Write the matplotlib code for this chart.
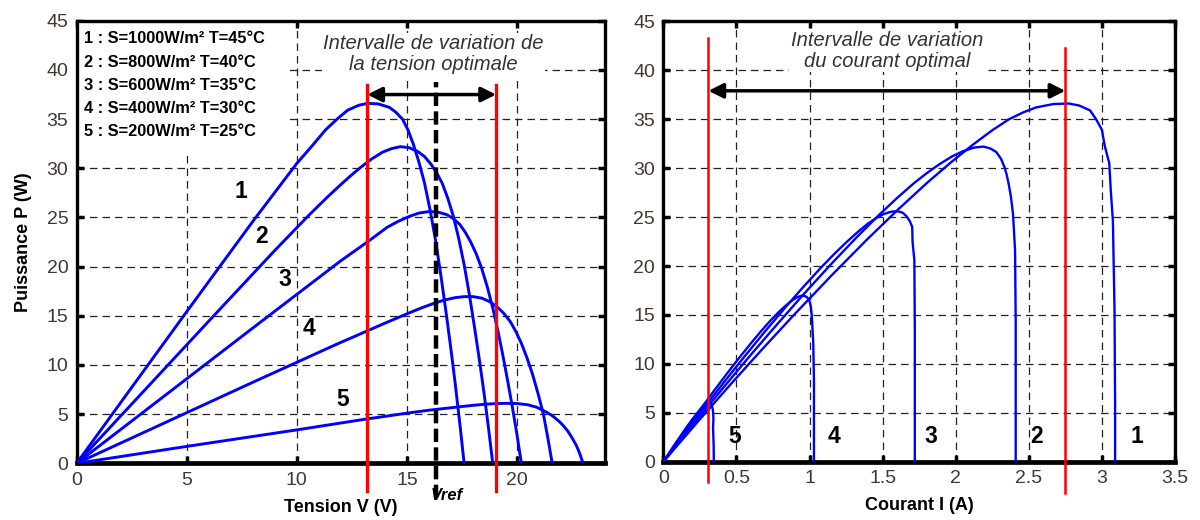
import numpy as np
import matplotlib.pyplot as plt
from matplotlib.patches import Rectangle

plt.rcParams['font.family'] = ['Liberation Sans', 'DejaVu Sans']

v1 = [0, 2, 5, 8, 9, 10, 10.7, 11.3, 11.8, 12.3, 12.8, 13.2, 13.7, 14.2, 14.5, 14.8,
      15.05, 15.3, 15.55, 15.8, 16.05, 16.3, 16.55, 16.8, 17.0, 17.2, 17.4, 17.6]
p1 = [0, 6.18, 15.43, 24.6, 27.55, 30.5, 32.3, 33.9, 34.95, 35.9, 36.4, 36.6, 36.55, 36.2,
      35.7, 35.0, 33.9, 32.4, 30.6, 28.5, 25.8, 22.7, 19.0, 15.0, 11.6, 8.0, 4.1, 0]
v2 = [0, 3, 6, 9, 10.6, 11.4, 12, 12.5, 12.9, 13.4, 13.9, 14.3, 14.7, 15.1, 15.5, 15.8,
      16.1, 16.35, 16.6, 16.85, 17.1, 17.35, 17.6, 17.85, 18.1, 18.3, 18.5, 18.7, 18.9]
p2 = [0, 7.23, 14.46, 21.65, 25.35, 27.1, 28.35, 29.35, 30.1, 30.95, 31.65, 32.0, 32.2,
      32.1, 31.7, 31.2, 30.4, 29.55, 28.5, 27.0, 25.2, 22.9, 20.2, 17.0, 13.4, 10.4, 7.2, 3.7, 0]
v3 = [0, 4, 8, 12, 13.2, 14.1, 14.6, 15.1, 15.55, 16.0, 16.4, 16.8, 17.1, 17.4, 17.65,
      17.9, 18.15, 18.4, 18.65, 18.9, 19.15, 19.4, 19.6, 19.8, 20.0, 20.2]
p3 = [0, 6.88, 13.76, 20.6, 22.5, 24.0, 24.6, 25.1, 25.45, 25.6, 25.55, 25.3, 24.9, 24.3,
      23.5, 22.5, 21.3, 19.8, 17.95, 15.8, 13.3, 10.5, 8.1, 5.6, 2.9, 0]
v4 = [0, 4, 8, 11.8, 14, 15, 15.6, 16.2, 16.7, 17.2, 17.6, 18.0, 18.4, 18.75, 19.1, 19.4,
      19.7, 19.95, 20.2, 20.45, 20.7, 20.95, 21.2, 21.4, 21.6]
p4 = [0, 4.12, 8.24, 12.1, 14.25, 15.2, 15.75, 16.25, 16.6, 16.85, 16.95, 16.95, 16.8,
      16.45, 15.9, 15.25, 14.4, 13.4, 12.2, 10.75, 9.1, 7.15, 5.0, 2.6, 0]
v5 = [0, 5, 10, 13, 15, 16, 17, 17.8, 18.5, 19.0, 19.5, 20.0, 20.5, 20.9, 21.3, 21.6,
      21.9, 22.1, 22.3, 22.5, 22.7, 22.85, 23.0]
p5 = [0, 1.72, 3.4, 4.45, 5.1, 5.4, 5.65, 5.85, 6.0, 6.07, 6.1, 6.08, 5.95, 5.7, 5.25,
      4.85, 4.3, 3.85, 3.3, 2.6, 1.8, 1.0, 0]
isc = [3.09, 2.41, 1.72, 1.03, 0.345]

legend_lines = ['1 : S=1000W/m² T=45°C', '2 : S=800W/m² T=40°C', '3 : S=600W/m² T=35°C',
                '4 : S=400W/m² T=30°C', '5 : S=200W/m² T=25°C']

v_opt = [13.2, 19.05]
v_ref = 16.3
i_opt = [0.308, 2.75]

curves = [(v1, p1), (v2, p2), (v3, p3), (v4, p4), (v5, p5)]

fig = plt.figure(figsize=(12, 5.2), dpi=100)
ax1 = fig.add_axes([0.0639, 0.109, 0.4403, 0.851])
ax2 = fig.add_axes([0.5528, 0.112, 0.4264, 0.847])

for ax in (ax1, ax2):
    ax.set_ylim(0, 45)
    ax.set_yticks(range(0, 46, 5))
    ax.grid(True, color='#222222', linestyle=(0, (6, 4)), linewidth=0.9)
    ax.set_axisbelow(True)
    ax.tick_params(direction='in', length=5, width=2.5, top=True, right=True,
                   labelsize=14, labelcolor='#403830', pad=6)
    for s in ax.spines.values():
        s.set_linewidth(2.4)
    ax.spines['bottom'].set_linewidth(3.4)

# ---- gauche : P(V)
for v, p in curves:
    ax1.plot(v, p, color='blue', lw=2.1, zorder=3)
ax1.set_xlim(0, 24)
ax1.set_xticks([0, 5, 10, 15, 20])
ax1.set_ylabel('Puissance P (W)', fontsize=13, fontweight='bold')
ax1.yaxis.set_label_coords(-0.085, 0.5)
ax1.set_xlabel('Tension V (V)', fontsize=13, fontweight='bold')
ax1.xaxis.set_label_coords(0.5, -0.08)

for x in v_opt:
    ax1.plot([x, x], [-2.8, 38.5], color='red', lw=2.4, zorder=4, clip_on=False)
ax1.plot([v_ref, v_ref], [-3.5, 38.8], color='black', lw=3.2, ls=(0, (3, 1.2)),
         zorder=4, clip_on=False)
ax1.annotate('', xy=(v_opt[0], 37.5), xytext=(v_opt[1], 37.5),
             arrowprops=dict(arrowstyle='<|-|>', color='black', lw=2.5,
                             mutation_scale=22, shrinkA=0, shrinkB=0), zorder=5)
ax1.text(v_ref + 0.5, -3.3, 'Vref', fontsize=12, fontweight='bold', style='italic',
         ha='center', va='center', clip_on=False)
ax1.text(16.2, 41.6, 'Intervalle de variation de\nla tension optimale', fontsize=14.5,
         style='italic', color='#333333', ha='center', va='center', linespacing=1.15,
         bbox=dict(facecolor='white', edgecolor='none', pad=1), zorder=2)

ax1.add_patch(Rectangle((0.05, 31.8), 9.45, 13.1, facecolor='white', edgecolor='none', zorder=2))
for k, line in enumerate(legend_lines):
    ax1.text(0.35, 43.15 - 2.35 * k, line, fontsize=11.8, fontweight='bold',
             ha='left', va='center', zorder=3)

num_pos_left = [(7.45, 27.6), (8.4, 23.05), (9.45, 18.65), (10.55, 13.7), (12.1, 6.45)]
for k, (x, y) in enumerate(num_pos_left):
    ax1.text(x, y, str(k + 1), fontsize=16.5, fontweight='bold', ha='center', va='center',
             bbox=dict(facecolor='white', edgecolor='none', pad=0.3), zorder=4)

# ---- droite : P(I)
for (v, p), i0 in zip(curves, isc):
    cur = [i0] + [pp / vv for vv, pp in zip(v[1:], p[1:])]
    ax2.plot(cur, p, color='blue', lw=1.7, zorder=3)
ax2.set_xlim(0, 3.5)
ax2.set_xticks([0, 0.5, 1, 1.5, 2, 2.5, 3, 3.5])
ax2.set_xticklabels(['0', '0.5', '1', '1.5', '2', '2.5', '3', '3.5'])
ax2.set_xlabel('Courant I (A)', fontsize=13, fontweight='bold')
ax2.xaxis.set_label_coords(0.5, -0.08)

ax2.plot([i_opt[0]] * 2, [-2.1, 43.3], color='red', lw=1.8, zorder=4, clip_on=False)
ax2.plot([i_opt[1]] * 2, [-3.2, 42.3], color='red', lw=1.8, zorder=4, clip_on=False)
ax2.annotate('', xy=(i_opt[0], 37.9), xytext=(i_opt[1], 37.9),
             arrowprops=dict(arrowstyle='<|-|>', color='black', lw=2.5,
                             mutation_scale=22, shrinkA=0, shrinkB=0), zorder=5)
ax2.text(1.53, 42.0, 'Intervalle de variation\ndu courant optimal', fontsize=14.5,
         style='italic', color='#333333', ha='center', va='center', linespacing=1.15,
         bbox=dict(facecolor='white', edgecolor='none', pad=1), zorder=2)

num_pos_right = [3.24, 2.55, 1.83, 1.17, 0.49]
for k, x in enumerate(num_pos_right):
    ax2.text(x, 2.6, str(k + 1), fontsize=16.5, fontweight='bold', ha='center', va='center')

fig.savefig('out.png', dpi=100)
